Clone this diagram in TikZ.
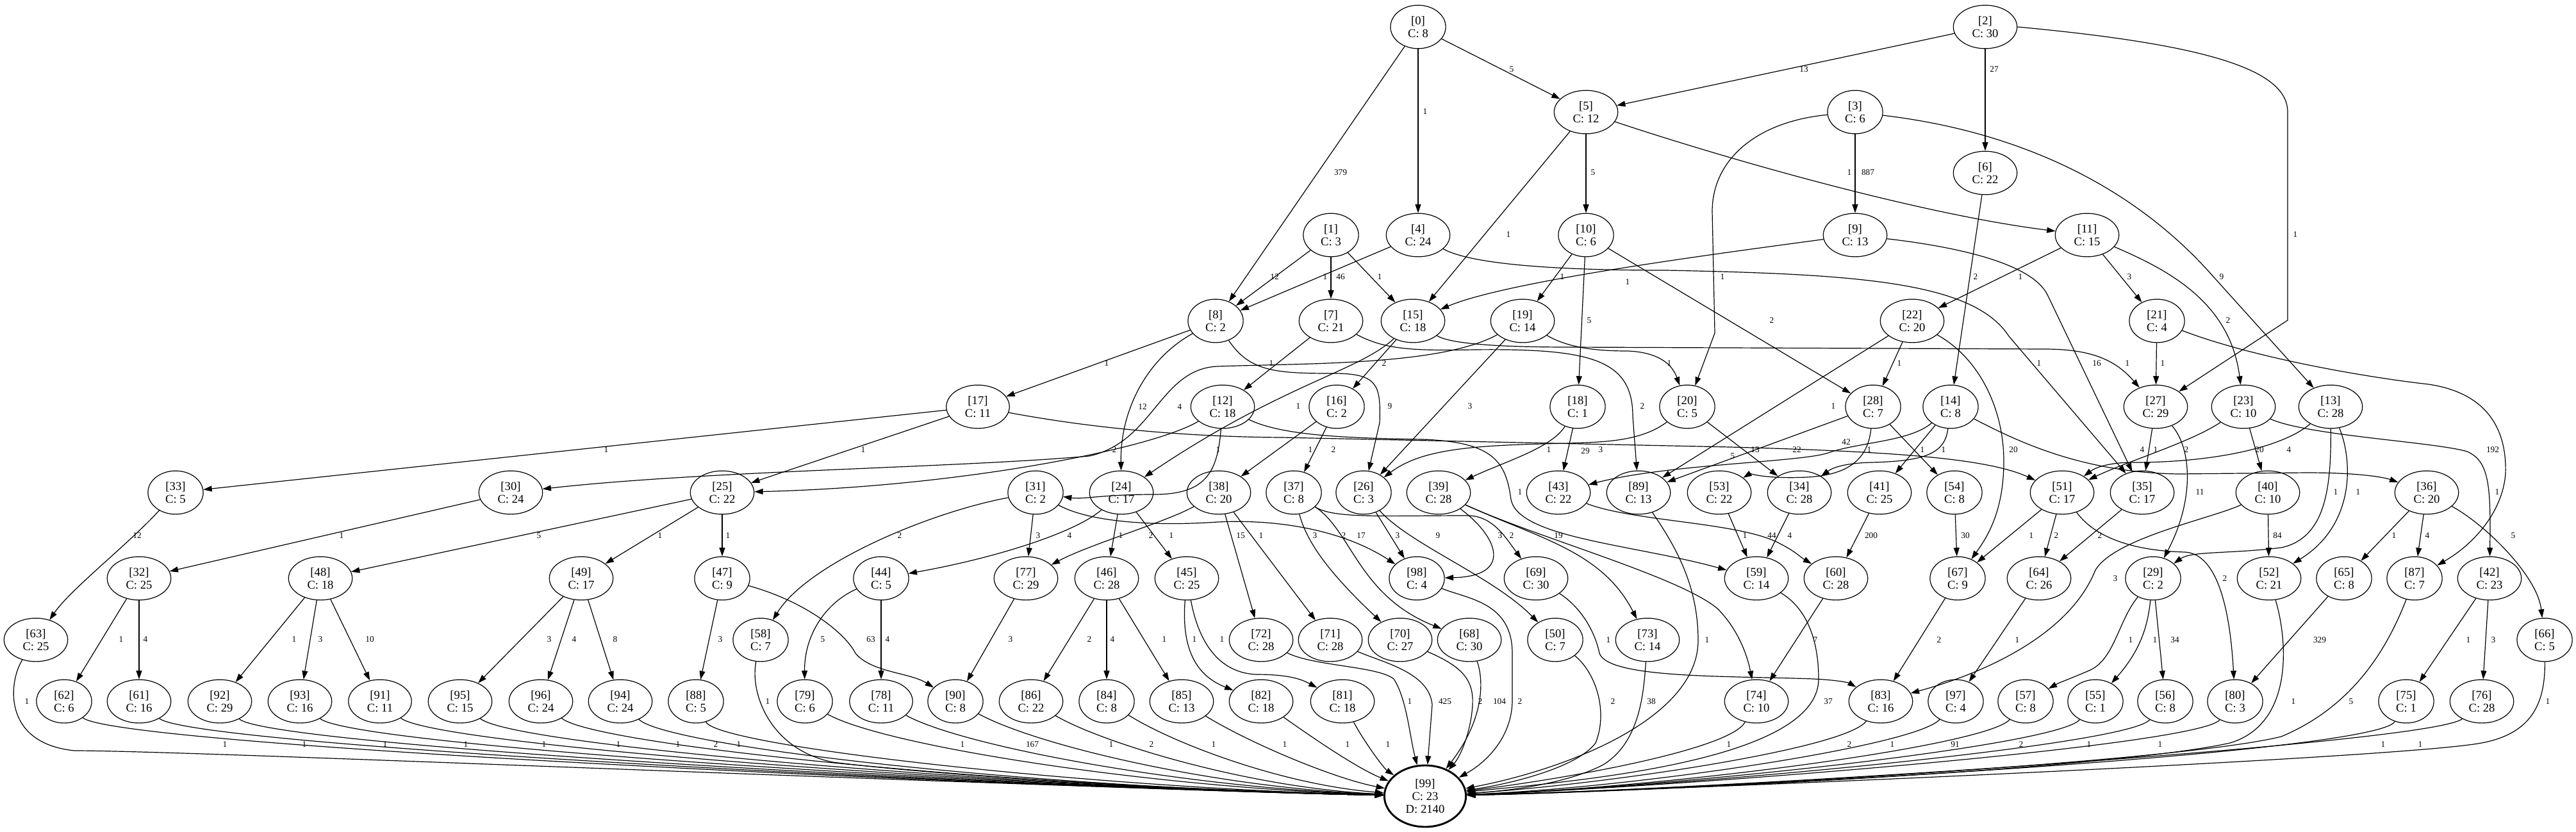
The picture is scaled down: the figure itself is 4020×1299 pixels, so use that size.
\documentclass[tikz,border=0pt]{standalone}
\usepackage{fontspec}
\setmainfont{Liberation Serif}
\usetikzlibrary{shapes.geometric,arrows.meta}

\begin{document}
\begin{tikzpicture}[x=0.75pt,y=-0.75pt]
\tikzstyle{every node}=[font=\fontsize{14}{15}\selectfont]
\tikzstyle{st}=[ellipse,draw,align=center,inner xsep=11pt,inner ysep=5.5pt,line width=0.9pt]
\tikzstyle{lbl}=[font=\fontsize{10}{11}\selectfont,inner sep=1pt]
\tikzstyle{conn}=[-{Triangle[length=10pt,width=6.7pt]},line width=0.9pt]
\useasboundingbox (0,0) rectangle (4020,1299);

% states
\node[st] (n0) at (2213,42) {[0]\\C: 8};
\node[st] (n2) at (3098,42) {[2]\\C: 30};
\node[st] (n5) at (2475,175) {[5]\\C: 12};
\node[st] (n3) at (2895,175) {[3]\\C: 6};
\node[st] (n6) at (3098,270) {[6]\\C: 22};
\node[st] (n1) at (2077,367) {[1]\\C: 3};
\node[st] (n4) at (2213,367) {[4]\\C: 24};
\node[st] (n10) at (2475,367) {[10]\\C: 6};
\node[st] (n9) at (2895,367) {[9]\\C: 13};
\node[st] (n11) at (3257,367) {[11]\\C: 15};
\node[st] (n8) at (1897,501) {[8]\\C: 2};
\node[st] (n7) at (2077,501) {[7]\\C: 21};
\node[st] (n15) at (2205,501) {[15]\\C: 18};
\node[st] (n19) at (2376,501) {[19]\\C: 14};
\node[st] (n22) at (2984,501) {[22]\\C: 20};
\node[st] (n21) at (3366,501) {[21]\\C: 4};
\node[st] (n17) at (1526,635) {[17]\\C: 11};
\node[st] (n12) at (1908,635) {[12]\\C: 18};
\node[st] (n16) at (2086,635) {[16]\\C: 2};
\node[st] (n18) at (2462,635) {[18]\\C: 1};
\node[st] (n20) at (2633,635) {[20]\\C: 5};
\node[st] (n28) at (2923,635) {[28]\\C: 7};
\node[st] (n14) at (3044,635) {[14]\\C: 8};
\node[st] (n27) at (3364,635) {[27]\\C: 29};
\node[st] (n23) at (3501,635) {[23]\\C: 10};
\node[st] (n13) at (3637,635) {[13]\\C: 28};
\node[st] (n33) at (274,769) {[33]\\C: 5};
\node[st] (n30) at (797,769) {[30]\\C: 24};
\node[st] (n25) at (1127,769) {[25]\\C: 22};
\node[st] (n31) at (1616,769) {[31]\\C: 2};
\node[st] (n24) at (1750,769) {[24]\\C: 17};
\node[st] (n38) at (1902,769) {[38]\\C: 20};
\node[st] (n37) at (2019,769) {[37]\\C: 8};
\node[st] (n26) at (2128,769) {[26]\\C: 3};
\node[st] (n39) at (2245,769) {[39]\\C: 28};
\node[st] (n43) at (2432,769) {[43]\\C: 22};
\node[st] (n89) at (2557,769) {[89]\\C: 13};
\node[st] (n53) at (2683,769) {[53]\\C: 22};
\node[st] (n34) at (2808,769) {[34]\\C: 28};
\node[st] (n41) at (2933,769) {[41]\\C: 25};
\node[st] (n54) at (3050,769) {[54]\\C: 8};
\node[st] (n51) at (3218,769) {[51]\\C: 17};
\node[st] (n35) at (3343,769) {[35]\\C: 17};
\node[st] (n40) at (3539,769) {[40]\\C: 10};
\node[st] (n36) at (3787,769) {[36]\\C: 20};
\node[st] (n32) at (217,903) {[32]\\C: 25};
\node[st] (n48) at (500,903) {[48]\\C: 18};
\node[st] (n49) at (907,903) {[49]\\C: 17};
\node[st] (n47) at (1127,903) {[47]\\C: 9};
\node[st] (n44) at (1375,903) {[44]\\C: 5};
\node[st] (n77) at (1601,903) {[77]\\C: 29};
\node[st] (n46) at (1727,903) {[46]\\C: 28};
\node[st] (n45) at (1852,903) {[45]\\C: 25};
\node[st] (n98) at (2211,903) {[98]\\C: 4};
\node[st] (n69) at (2397,903) {[69]\\C: 30};
\node[st] (n59) at (2741,903) {[59]\\C: 14};
\node[st] (n60) at (2865,903) {[60]\\C: 28};
\node[st] (n67) at (3055,903) {[67]\\C: 9};
\node[st] (n64) at (3182,903) {[64]\\C: 26};
\node[st] (n29) at (3360,903) {[29]\\C: 2};
\node[st] (n52) at (3541,903) {[52]\\C: 21};
\node[st] (n65) at (3658,903) {[65]\\C: 8};
\node[st] (n87) at (3768,903) {[87]\\C: 7};
\node[st] (n42) at (3885,903) {[42]\\C: 23};
\node[st] (n63) at (56,999) {[63]\\C: 25};
\node[st] (n58) at (1187,999) {[58]\\C: 7};
\node[st] (n72) at (1968,999) {[72]\\C: 28};
\node[st] (n71) at (2076,999) {[71]\\C: 28};
\node[st] (n70) at (2185,999) {[70]\\C: 27};
\node[st] (n68) at (2293,999) {[68]\\C: 30};
\node[st] (n50) at (2427,999) {[50]\\C: 7};
\node[st] (n73) at (2571,999) {[73]\\C: 14};
\node[st] (n66) at (3971,999) {[66]\\C: 5};
\node[st] (n62) at (100,1095) {[62]\\C: 6};
\node[st] (n61) at (217,1095) {[61]\\C: 16};
\node[st] (n92) at (343,1095) {[92]\\C: 29};
\node[st] (n93) at (468,1095) {[93]\\C: 16};
\node[st] (n91) at (593,1095) {[91]\\C: 11};
\node[st] (n95) at (718,1095) {[95]\\C: 15};
\node[st] (n96) at (844,1095) {[96]\\C: 24};
\node[st] (n94) at (968,1095) {[94]\\C: 24};
\node[st] (n88) at (1086,1095) {[88]\\C: 5};
\node[st] (n79) at (1256,1095) {[79]\\C: 6};
\node[st] (n78) at (1375,1095) {[78]\\C: 11};
\node[st] (n90) at (1491,1095) {[90]\\C: 8};
\node[st] (n86) at (1609,1095) {[86]\\C: 22};
\node[st] (n84) at (1727,1095) {[84]\\C: 8};
\node[st] (n85) at (1844,1095) {[85]\\C: 13};
\node[st] (n82) at (1968,1095) {[82]\\C: 18};
\node[st] (n81) at (2095,1095) {[81]\\C: 18};
\node[st] (n74) at (2741,1095) {[74]\\C: 10};
\node[st] (n83) at (2935,1095) {[83]\\C: 16};
\node[st] (n97) at (3052,1095) {[97]\\C: 4};
\node[st] (n57) at (3161,1095) {[57]\\C: 8};
\node[st] (n55) at (3270,1095) {[55]\\C: 1};
\node[st] (n56) at (3379,1095) {[56]\\C: 8};
\node[st] (n80) at (3488,1095) {[80]\\C: 3};
\node[st] (n75) at (3755,1095) {[75]\\C: 1};
\node[st] (n76) at (3873,1095) {[76]\\C: 28};
\node[st,line width=2.2pt] (n99) at (2224,1243) {[99]\\C: 23\\D: 2140};

% transitions, top part
\draw[conn] (n0) -- (n5) node[lbl] (e0x5) at (2359,108) {5};
\draw[conn] (n0) -- (n4) node[lbl] (e0x4) at (2224,174) {1};
\draw[conn] (n0) -- (n8) node[lbl] (e0x8) at (2092,269) {379};
\draw[conn] (n2) -- (n5) node[lbl] (e2x5) at (2815,108) {13};
\draw[conn] (n2) -- (n6) node[lbl] (e2x6) at (3112,108) {27};
\draw[conn] (n2.east) .. controls (3450,70) and (3570,110) .. (3570,175) -- (3570,500) -- (n27) node[lbl] (e2x27) at (3582,366) {1};
\draw[conn] (n3) -- (n9) node[lbl] (e3x9) at (2915,269) {887};
\draw[conn] (n3) .. controls (2740,190) and (2672,250) .. (2672,330) -- (2676,520) -- (n20) node[lbl] (e3x20) at (2688,432) {1};
\draw[conn] (n3) .. controls (3150,205) and (3330,290) .. (3455,433) -- (n13) node[lbl] (e3x13) at (3467,432) {9};
\draw[conn] (n5) -- (n10) node[lbl] (e5x10) at (2486,269) {5};
\draw[conn] (n5) -- (n15) node[lbl] (e5x15) at (2354,366) {1};
\draw[conn] (n5) .. controls (2700,250) and (3000,335) .. (n11) node[lbl] (e5x11) at (2886,269) {1};
\draw[conn] (n1) -- (n8) node[lbl] (e1x8) at (1989,432) {12};
\draw[conn] (n1) -- (n7) node[lbl] (e1x7) at (2092,432) {46};
\draw[conn] (n1) -- (n15) node[lbl] (e1x15) at (2153,432) {1};
\draw[conn] (n4) -- (n8) node[lbl] (e4x8) at (2068,432) {1};
\draw[conn] (n4) .. controls (2300,415) and (2450,422) .. (2600,422) .. controls (2900,428) and (3080,440) .. (3135,525) -- (n35) node[lbl] (e4x35) at (3182,567) {1};
\draw[conn] (n9) .. controls (3050,385) and (3170,410) .. (3195,460) -- (n35) node[lbl] (e9x35) at (3272,567) {16};
\draw[conn] (n9) .. controls (2650,400) and (2350,440) .. (n15) node[lbl] (e9x15) at (2540,440) {1};
\draw[conn] (n10) -- (n19) node[lbl] (e10x19) at (2438,432) {1};
\draw[conn] (n10) -- (n18) node[lbl] (e10x18) at (2480,500) {5};
\draw[conn] (n10) -- (n28) node[lbl] (e10x28) at (2765,500) {2};
\draw[conn] (n6) -- (n14) node[lbl] (e6x14) at (3083,432) {2};
\draw[conn] (n11) -- (n22) node[lbl] (e11x22) at (3153,432) {1};
\draw[conn] (n11) -- (n21) node[lbl] (e11x21) at (3323,432) {3};
\draw[conn] (n11) .. controls (3380,420) and (3480,470) .. (n23) node[lbl] (e11x23) at (3477,500) {2};

% second layer
\draw[conn] (n8) -- (n17) node[lbl] (e8x17) at (1727,567) {1};
\draw[conn] (n8) .. controls (1790,560) and (1748,640) .. (n24) node[lbl] (e8x24) at (1783,635) {12};
\draw[conn] (n8) .. controls (1950,580) and (1990,583) .. (2080,583) .. controls (2150,583) and (2155,600) .. (2153,660) -- (n26) node[lbl] (e8x26) at (2169,634) {9};
\draw[conn] (n7) -- (n12) node[lbl] (e7x12) at (1984,567) {1};
\draw[conn] (n7) .. controls (2160,545) and (2200,548) .. (2300,546) .. controls (2480,544) and (2548,560) .. (2548,650) -- (n89) node[lbl] (e7x89) at (2563,634) {2};
\draw[conn] (n15) .. controls (2260,535) and (2320,542) .. (2450,542) -- (3190,545) .. controls (3260,545) and (3300,560) .. (n27) node[lbl] (e15x27) at (3320,567) {1};
\draw[conn] (n15) -- (n16) node[lbl] (e15x16) at (2160,567) {2};
\draw[conn] (n15) .. controls (2120,580) and (2000,600) .. (n24) node[lbl] (e15x24) at (2026,634) {1};
\draw[conn] (n19) .. controls (2250,570) and (2050,567) .. (1900,572) .. controls (1810,576) and (1800,690) .. (1700,712) .. controls (1500,730) and (1100,735) .. (n30) node[lbl] (e19x30) at (1841,635) {4};
\draw[conn] (n19) .. controls (2450,545) and (2500,548) .. (2540,548) .. controls (2590,550) and (2610,570) .. (n20) node[lbl] (e19x20) at (2605,567) {1};
\draw[conn] (n19) -- (n26) node[lbl] (e19x26) at (2294,634) {3};
\draw[conn] (n22) -- (n89) node[lbl] (e22x89) at (2861,634) {1};
\draw[conn] (n22) -- (n28) node[lbl] (e22x28) at (2964,567) {1};
\draw[conn] (n22) .. controls (3090,560) and (3127,640) .. (3127,720) .. controls (3127,800) and (3100,840) .. (n67) node[lbl] (e22x67) at (3142,702) {20};
\draw[conn] (n21) -- (n27) node[lbl] (e21x27) at (3375,567) {1};
\draw[conn] (n21) .. controls (3520,560) and (3700,590) .. (3790,600) .. controls (3890,615) and (3912,680) .. (3910,740) .. controls (3905,800) and (3860,850) .. (n87) node[lbl] (e21x87) at (3890,702) {192};

% third layer
\draw[conn] (n17) -- (n33) node[lbl] (e17x33) at (946,702) {1};
\draw[conn] (n17) -- (n25) node[lbl] (e17x25) at (1347,702) {1};
\draw[conn] (n17) .. controls (1700,668) and (1850,682) .. (2000,683) -- (2700,698) .. controls (2950,705) and (3100,715) .. (n51) node[lbl] (e17x51) at (2704,712) {5};
\draw[conn] (n12) .. controls (2000,680) and (2100,684) .. (2220,686) .. controls (2330,690) and (2350,720) .. (2358,780) .. controls (2370,840) and (2550,850) .. (n59) node[lbl] (e12x59) at (2372,768) {1};
\draw[conn] (n12) .. controls (1900,740) and (1880,772) .. (1800,772) .. controls (1720,772) and (1690,780) .. (n31) node[lbl] (e12x31) at (1901,702) {1};
\draw[conn] (n12) .. controls (1800,700) and (1500,760) .. (n25) node[lbl] (e12x25) at (1739,702) {2};
\draw[conn] (n16) -- (n38) node[lbl] (e16x38) at (2045,702) {1};
\draw[conn] (n16) -- (n37) node[lbl] (e16x37) at (2081,702) {2};
\draw[conn] (n18) .. controls (2420,700) and (2350,720) .. (n39) node[lbl] (e18x39) at (2417,702) {1};
\draw[conn] (n18) -- (n43) node[lbl] (e18x43) at (2498,702) {3};
\draw[conn] (n20) .. controls (2560,690) and (2500,690) .. (2450,692) .. controls (2300,695) and (2220,700) .. (n26) node[lbl] (e20x26) at (2474,704) {29};
\draw[conn] (n20) -- (n34) node[lbl] (e20x34) at (2739,702) {13};
\draw[conn] (n28) -- (n89) node[lbl] (e28x89) at (2804,702) {22};
\draw[conn] (n28) .. controls (2915,720) and (2880,742) .. (2820,745) .. controls (2760,748) and (2730,740) .. (n53) node[lbl] (e28x53) at (2917,702) {1};
\draw[conn] (n28) -- (n54) node[lbl] (e28x54) at (3000,702) {1};
\draw[conn] (n14) .. controls (2980,690) and (2900,690) .. (2850,708) .. controls (2800,722) and (2600,725) .. (n43) node[lbl] (e14x43) at (2881,690) {42};
\draw[conn] (n14) .. controls (3035,710) and (3000,720) .. (2920,722) .. controls (2880,723) and (2860,730) .. (n34);
\draw[conn] (n14) -- (n41) node[lbl] (e14x41) at (3033,702) {1};
\draw[conn] (n14) .. controls (3150,690) and (3250,738) .. (3400,740) -- (3600,738) .. controls (3680,738) and (3720,745) .. (n36) node[lbl] (e14x36) at (3343,702) {4};
\draw[conn] (n27) -- (n35) node[lbl] (e27x35) at (3364,702) {1};
\draw[conn] (n27) .. controls (3420,700) and (3425,780) .. (n29) node[lbl] (e27x29) at (3433,768) {11};
\draw[conn] (n23) -- (n40) node[lbl] (e23x40) at (3526,702) {20};
\draw[conn] (n23) .. controls (3420,690) and (3320,720) .. (n51) node[lbl] (e23x51) at (3412,702) {2};
\draw[conn] (n23) .. controls (3600,680) and (3800,690) .. (3850,705) .. controls (3885,720) and (3887,760) .. (n42) node[lbl] (e23x42) at (3897,768) {1};
\draw[conn] (n13) .. controls (3560,700) and (3450,722) .. (3330,722) .. controls (3290,722) and (3270,730) .. (n51) node[lbl] (e13x51) at (3572,702) {4};
\draw[conn] (n13) .. controls (3638,760) and (3630,840) .. (3560,855) .. controls (3480,865) and (3420,860) .. (n29) node[lbl] (e13x29) at (3645,768) {1};
\draw[conn] (n13) .. controls (3672,720) and (3675,820) .. (n52) node[lbl] (e13x52) at (3680,768) {1};

% fourth layer
\draw[conn] (n33) .. controls (200,850) and (110,920) .. (n63) node[lbl] (e33x63) at (214,836) {12};
\draw[conn] (n30) -- (n32) node[lbl] (e30x32) at (533,836) {1};
\draw[conn] (n25) -- (n48) node[lbl] (e25x48) at (841,836) {5};
\draw[conn] (n25) -- (n49) node[lbl] (e25x49) at (1030,836) {1};
\draw[conn] (n25) -- (n47) node[lbl] (e25x47) at (1136,836) {1};
\draw[conn] (n31) .. controls (1450,800) and (1260,880) .. (n58) node[lbl] (e31x58) at (1404,836) {2};
\draw[conn] (n31) -- (n77) node[lbl] (e31x77) at (1620,836) {3};
\draw[conn] (n31) .. controls (1700,815) and (1800,822) .. (1900,815) .. controls (2000,810) and (2100,830) .. (n98);
\draw[conn] (n24) .. controls (1680,830) and (1560,870) .. (n44) node[lbl] (e24x44) at (1669,836) {4};
\draw[conn] (n24) -- (n46) node[lbl] (e24x46) at (1749,836) {1};
\draw[conn] (n24) -- (n45) node[lbl] (e24x45) at (1828,836) {1};
\draw[conn] (n38) .. controls (1820,815) and (1700,850) .. (n77) node[lbl] (e38x77) at (1796,836) {2};
\draw[conn] (n38) -- (n72) node[lbl] (e38x72) at (1936,836) {15};
\draw[conn] (n38) -- (n71) node[lbl] (e38x71) at (1968,836) {1};
\draw[conn] (n37) .. controls (2040,850) and (2080,900) .. (n70) node[lbl] (e37x70) at (2052,836) {3};
\draw[conn] (n37) .. controls (2080,810) and (2160,805) .. (2290,805) .. controls (2330,805) and (2350,840) .. (n69) node[lbl] (e37x69) at (2097,836) {2};
\draw[conn] (n37) .. controls (2110,830) and (2120,930) .. (n68) node[lbl] (e37x68) at (2124,836) {17};
\draw[conn] (n26) -- (n98) node[lbl] (e26x98) at (2181,836) {3};
\draw[conn] (n26) .. controls (2200,850) and (2330,900) .. (n50) node[lbl] (e26x50) at (2244,836) {9};
\draw[conn] (n39) .. controls (2340,840) and (2360,900) .. (n98) node[lbl] (e39x98) at (2341,836) {3};
\draw[conn] (n39) .. controls (2400,840) and (2620,900) .. (2680,950) .. controls (2720,990) and (2730,1040) .. (n74) node[lbl] (e39x74) at (2359,836) {2};
\draw[conn] (n39) .. controls (2400,840) and (2500,860) .. (n73) node[lbl] (e39x73) at (2432,836) {19};
\draw[conn] (n43) .. controls (2550,815) and (2720,815) .. (2780,850) .. controls (2800,860) and (2810,870) .. (n60) node[lbl] (e43x60) at (2765,836) {44};
\draw[conn] (n89) .. controls (2620,860) and (2650,920) .. (2650,1000) .. controls (2650,1120) and (2450,1200) .. (n99) node[lbl] (e89x99) at (2664,999) {1};
\draw[conn] (n53) -- (n59) node[lbl] (e53x59) at (2723,836) {1};
\draw[conn] (n34) -- (n59) node[lbl] (e34x59) at (2793,836) {4};
\draw[conn] (n41) -- (n60) node[lbl] (e41x60) at (2920,836) {200};
\draw[conn] (n54) -- (n67) node[lbl] (e54x67) at (3067,836) {30};
\draw[conn] (n51) -- (n67) node[lbl] (e51x67) at (3170,836) {1};
\draw[conn] (n51) -- (n64) node[lbl] (e51x64) at (3209,836) {2};
\draw[conn] (n51) .. controls (3270,840) and (3330,860) .. (3410,862) .. controls (3460,865) and (3480,950) .. (n80) node[lbl] (e51x80) at (3472,903) {2};
\draw[conn] (n35) -- (n64) node[lbl] (e35x64) at (3277,836) {2};
\draw[conn] (n40) -- (n52) node[lbl] (e40x52) at (3554,836) {84};
\draw[conn] (n40) .. controls (3450,810) and (3300,840) .. (3270,890) .. controls (3230,990) and (3100,1050) .. (n83) node[lbl] (e40x83) at (3301,903) {3};
\draw[conn] (n36) -- (n65) node[lbl] (e36x65) at (3736,836) {1};
\draw[conn] (n36) -- (n87) node[lbl] (e36x87) at (3788,836) {4};
\draw[conn] (n36) .. controls (3880,820) and (3960,900) .. (n66) node[lbl] (e36x66) at (3922,836) {5};

% fifth layer
\draw[conn] (n32) -- (n62) node[lbl] (e32x62) at (189,998) {1};
\draw[conn] (n32) -- (n61) node[lbl] (e32x61) at (227,998) {4};
\draw[conn] (n48) -- (n92) node[lbl] (e48x92) at (459,998) {1};
\draw[conn] (n48) -- (n93) node[lbl] (e48x93) at (500,998) {3};
\draw[conn] (n48) -- (n91) node[lbl] (e48x91) at (577,998) {10};
\draw[conn] (n49) -- (n95) node[lbl] (e49x95) at (857,998) {3};
\draw[conn] (n49) -- (n96) node[lbl] (e49x96) at (896,998) {4};
\draw[conn] (n49) -- (n94) node[lbl] (e49x94) at (960,998) {8};
\draw[conn] (n47) -- (n88) node[lbl] (e47x88) at (1124,998) {3};
\draw[conn] (n47) .. controls (1260,940) and (1320,990) .. (1335,1020) .. controls (1360,1050) and (1420,1050) .. (n90) node[lbl] (e47x90) at (1359,998) {63};
\draw[conn] (n44) .. controls (1290,940) and (1255,990) .. (n79) node[lbl] (e44x79) at (1284,998) {5};
\draw[conn] (n44) -- (n78) node[lbl] (e44x78) at (1385,998) {4};
\draw[conn] (n77) -- (n90) node[lbl] (e77x90) at (1577,998) {3};
\draw[conn] (n46) -- (n86) node[lbl] (e46x86) at (1700,998) {2};
\draw[conn] (n46) -- (n84) node[lbl] (e46x84) at (1736,998) {4};
\draw[conn] (n46) -- (n85) node[lbl] (e46x85) at (1817,998) {1};
\draw[conn] (n45) .. controls (1842,1030) and (1880,1060) .. (n82) node[lbl] (e45x82) at (1864,998) {1};
\draw[conn] (n45) .. controls (1870,1000) and (1900,1050) .. (1960,1053) .. controls (2010,1053) and (2030,1060) .. (n81) node[lbl] (e45x81) at (1907,998) {1};
\draw[conn] (n98) .. controls (2290,935) and (2360,940) .. (2360,1020) -- (2360,1093) .. controls (2360,1150) and (2320,1190) .. (n99) node[lbl] (e98x99) at (2372,1095) {2};
\draw[conn] (n69) .. controls (2470,950) and (2490,990) .. (2496,1020) .. controls (2510,1060) and (2700,1055) .. (2830,1060) .. controls (2870,1062) and (2885,1066) .. (n83) node[lbl] (e69x83) at (2510,999) {1};
\draw[conn] (n59) .. controls (2820,950) and (2838,1000) .. (2838,1060) .. controls (2838,1190) and (2450,1220) .. (n99) node[lbl] (e59x99) at (2853,1095) {37};
\draw[conn] (n60) -- (n74) node[lbl] (e60x74) at (2833,999) {7};
\draw[conn] (n67) -- (n83) node[lbl] (e67x83) at (3026,999) {2};
\draw[conn] (n64) -- (n97) node[lbl] (e64x97) at (3148,999) {1};
\draw[conn] (n29) .. controls (3305,970) and (3300,1030) .. (3260,1047) .. controls (3230,1060) and (3215,1065) .. (n57) node[lbl] (e29x57) at (3325,999) {1};
\draw[conn] (n29) .. controls (3352,970) and (3345,1010) .. (n55) node[lbl] (e29x55) at (3363,999) {1};
\draw[conn] (n29) -- (n56) node[lbl] (e29x56) at (3394,999) {34};
\draw[conn] (n52) .. controls (3570,1000) and (3580,1130) .. (3480,1160) .. controls (3300,1200) and (2600,1235) .. (n99) node[lbl] (e52x99) at (3579,1095) {1};
\draw[conn] (n65) -- (n80) node[lbl] (e65x80) at (3620,999) {329};
\draw[conn] (n87) .. controls (3730,1000) and (3680,1100) .. (3560,1150) .. controls (3400,1190) and (2600,1235) .. (n99) node[lbl] (e87x99) at (3669,1095) {5};
\draw[conn] (n42) -- (n75) node[lbl] (e42x75) at (3852,999) {1};
\draw[conn] (n42) -- (n76) node[lbl] (e42x76) at (3891,999) {3};

% into the sink
\draw[conn] (n63) .. controls (15,1060) and (0,1160) .. (116,1172) .. controls (300,1172) and (1500,1225) .. (n99) node[lbl] (e63x99) at (42,1095) {1};
\draw[conn] (n58) .. controls (1170,1080) and (1200,1170) .. (1300,1190) .. controls (1500,1215) and (1900,1235) .. (n99) node[lbl] (e58x99) at (1198,1095) {1};
\draw[conn] (n72) .. controls (2050,1040) and (2150,1040) .. (2175,1060) .. controls (2195,1090) and (2200,1150) .. (n99) node[lbl] (e72x99) at (2200,1095) {1};
\draw[conn] (n71) .. controls (2160,1035) and (2230,1050) .. (2235,1100) -- (n99) node[lbl] (e71x99) at (2255,1095) {425};
\draw[conn] (n70) .. controls (2280,1040) and (2300,1060) .. (2298,1100) .. controls (2296,1140) and (2280,1180) .. (n99) node[lbl] (e70x99) at (2310,1095) {2};
\draw[conn] (n68) .. controls (2315,1060) and (2318,1120) .. (n99) node[lbl] (e68x99) at (2340,1095) {104};
\draw[conn] (n50) .. controls (2490,1050) and (2510,1110) .. (2490,1160) .. controls (2460,1200) and (2350,1225) .. (n99) node[lbl] (e50x99) at (2517,1095) {2};
\draw[conn] (n73) .. controls (2565,1080) and (2560,1160) .. (2500,1195) .. controls (2440,1225) and (2350,1235) .. (n99) node[lbl] (e73x99) at (2577,1095) {38};
\draw[conn] (n66) .. controls (3972,1100) and (3950,1150) .. (3860,1162) .. controls (3700,1185) and (2700,1230) .. (n99) node[lbl] (e66x99) at (3976,1095) {1};
\draw[conn] (n62) .. controls (180,1165) and (1600,1230) .. (n99) node[lbl] (e62x99) at (351,1162) {1};
\draw[conn] (n61) .. controls (300,1165) and (1600,1230) .. (n99) node[lbl] (e61x99) at (475,1162) {1};
\draw[conn] (n92) .. controls (420,1165) and (1600,1230) .. (n99) node[lbl] (e92x99) at (601,1162) {1};
\draw[conn] (n93) .. controls (550,1165) and (1600,1230) .. (n99) node[lbl] (e93x99) at (727,1162) {1};
\draw[conn] (n91) .. controls (680,1165) and (1600,1230) .. (n99) node[lbl] (e91x99) at (849,1162) {1};
\draw[conn] (n95) .. controls (800,1165) and (1600,1230) .. (n99) node[lbl] (e95x99) at (965,1162) {1};
\draw[conn] (n96) .. controls (930,1165) and (1600,1230) .. (n99) node[lbl] (e96x99) at (1058,1162) {1};
\draw[conn] (n94) .. controls (1040,1165) and (1600,1230) .. (n99) node[lbl] (e94x99) at (1117,1162) {2};
\draw[conn] (n88) .. controls (1120,1165) and (1700,1230) .. (n99) node[lbl] (e88x99) at (1153,1162) {1};
\draw[conn] (n79) .. controls (1380,1165) and (1800,1230) .. (n99) node[lbl] (e79x99) at (1502,1162) {1};
\draw[conn] (n78) .. controls (1500,1165) and (1850,1230) .. (n99) node[lbl] (e78x99) at (1611,1162) {167};
\draw[conn] (n90) .. controls (1620,1165) and (1900,1230) .. (n99) node[lbl] (e90x99) at (1734,1162) {1};
\draw[conn] (n86) .. controls (1720,1160) and (1950,1230) .. (n99) node[lbl] (e86x99) at (1797,1162) {2};
\draw[conn] (n84) .. controls (1830,1160) and (2000,1225) .. (n99) node[lbl] (e84x99) at (1894,1162) {1};
\draw[conn] (n85) .. controls (1950,1160) and (2080,1215) .. (n99) node[lbl] (e85x99) at (2005,1162) {1};
\draw[conn] (n82) .. controls (2060,1160) and (2120,1200) .. (n99) node[lbl] (e82x99) at (2103,1162) {1};
\draw[conn] (n81) .. controls (2130,1160) and (2160,1200) .. (n99) node[lbl] (e81x99) at (2166,1162) {1};
\draw[conn] (n74) .. controls (2700,1170) and (2450,1215) .. (n99) node[lbl] (e74x99) at (2698,1162) {1};
\draw[conn] (n83) .. controls (2880,1170) and (2500,1225) .. (n99) node[lbl] (e83x99) at (2886,1162) {2};
\draw[conn] (n97) .. controls (2990,1165) and (2550,1230) .. (n99) node[lbl] (e97x99) at (2953,1162) {1};
\draw[conn] (n57) .. controls (3100,1165) and (2600,1230) .. (n99) node[lbl] (e57x99) at (3051,1162) {91};
\draw[conn] (n55) .. controls (3210,1165) and (2600,1230) .. (n99) node[lbl] (e55x99) at (3154,1162) {2};
\draw[conn] (n56) .. controls (3320,1165) and (2600,1230) .. (n99) node[lbl] (e56x99) at (3260,1162) {1};
\draw[conn] (n80) .. controls (3430,1165) and (2600,1230) .. (n99) node[lbl] (e80x99) at (3371,1162) {1};
\draw[conn] (n75) .. controls (3710,1175) and (2700,1232) .. (n99) node[lbl] (e75x99) at (3719,1162) {1};
\draw[conn] (n76) .. controls (3800,1160) and (2700,1232) .. (n99) node[lbl] (e76x99) at (3777,1162) {1};
\end{tikzpicture}
\end{document}
